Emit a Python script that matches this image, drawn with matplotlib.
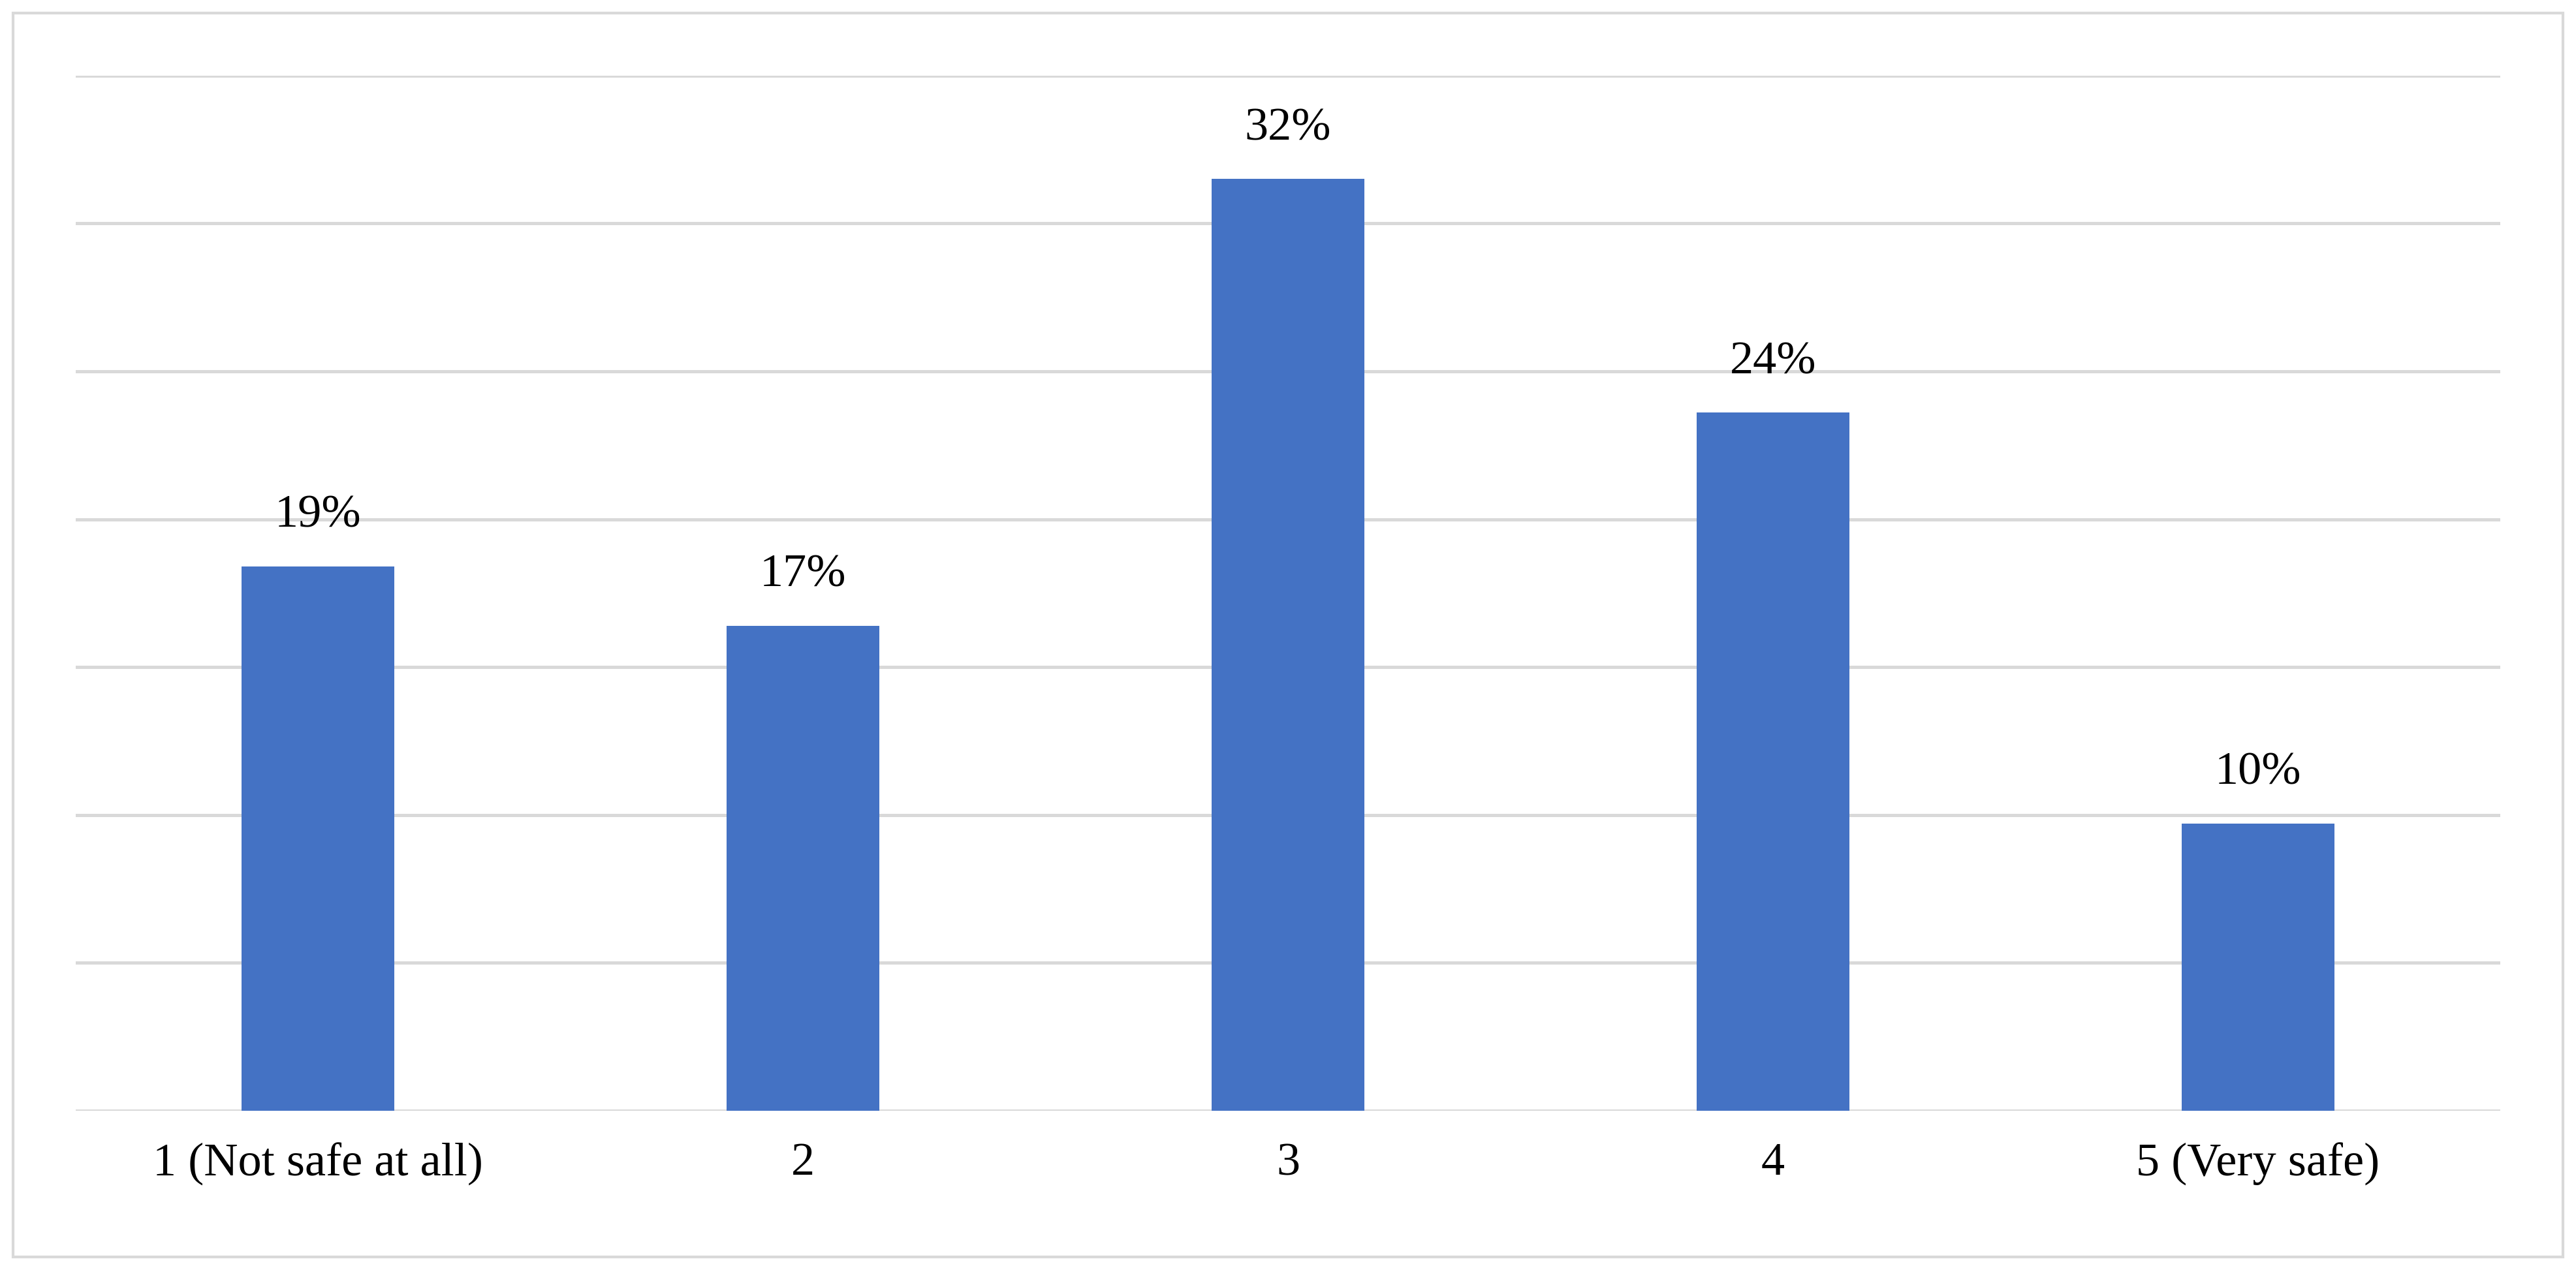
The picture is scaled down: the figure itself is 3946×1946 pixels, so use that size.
import matplotlib.pyplot as plt
from matplotlib.patches import Rectangle

categories = ['1 (Not safe at all)', '2', '3', '4', '5 (Very safe)']
values = [18.4, 16.4, 31.5, 23.6, 9.7]
labels = ['19%', '17%', '32%', '24%', '10%']

plt.rcParams['font.family'] = ['Liberation Serif', 'DejaVu Serif']

fig = plt.figure(figsize=(19.73, 9.73), dpi=200)
ax = fig.add_axes([46/1568, 1 - 676/773, (1522-46)/1568, (676-46)/773])

x = range(len(categories))
ax.bar(x, values, width=0.315, color='#4472c4', zorder=3)
for i, (v, l) in enumerate(zip(values, labels)):
    ax.text(i, v + 1.0, l, ha='center', va='bottom', fontsize=26)

ax.set_xlim(-0.5, len(categories) - 0.5)
ax.set_ylim(0, 35)
ax.set_yticks(range(0, 36, 5))
ax.yaxis.grid(True, color='#d9d9d9', linewidth=1.8, zorder=0)
ax.tick_params(axis='y', left=False, labelleft=False)
ax.tick_params(axis='x', bottom=False, labelsize=26, pad=14)
ax.set_xticks(list(x))
ax.set_xticklabels(categories)
for s in ax.spines.values():
    s.set_visible(False)

fig.patches.append(Rectangle((8/1568, 8/773), 1552/1568, 757/773, transform=fig.transFigure,
                             fill=False, edgecolor='#d9d9d9', linewidth=1.5))

fig.savefig('out.png', dpi=200)
